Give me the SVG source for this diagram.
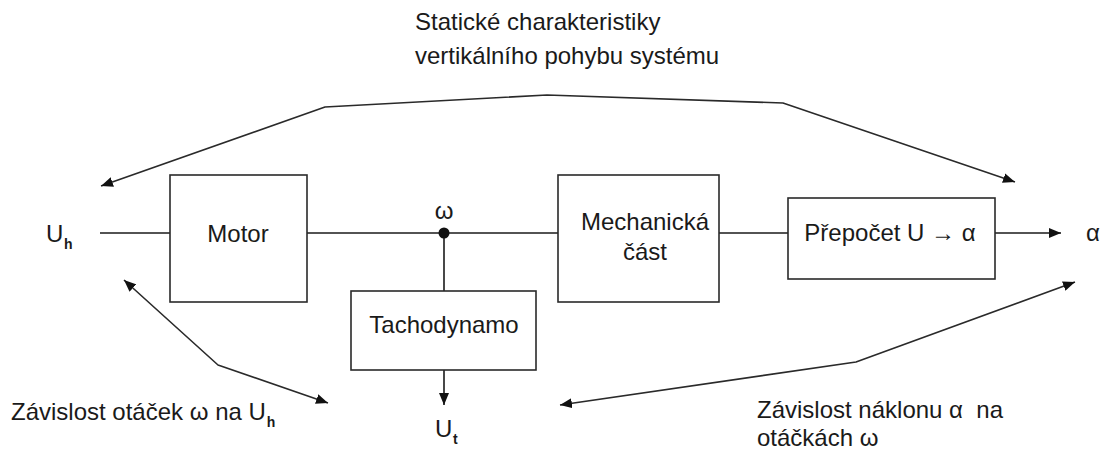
<svg xmlns="http://www.w3.org/2000/svg" width="1106" height="455" viewBox="0 0 1106 455">
  <style>
    text { font-family: "Liberation Sans", Arial, sans-serif; font-size: 24px; fill: #1a1a1a; }
    .sub { font-size: 14px; font-weight: bold; }
    .box { fill: #ffffff; stroke: #2a2a2a; stroke-width: 1.6; }
    .wire { fill: none; stroke: #1a1a1a; stroke-width: 1.6; }
    .link { fill: none; stroke: #2a2a2a; stroke-width: 1.6; stroke-linejoin: round; }
    .mid { text-anchor: middle; }
  </style>
  <defs>
    <marker id="arrow" markerUnits="userSpaceOnUse" markerWidth="13" markerHeight="10"
            refX="12" refY="5" orient="auto-start-reverse">
      <path d="M0,0 L12,5 L0,10 z" fill="#111111"/>
    </marker>
  </defs>

  <rect width="1106" height="455" fill="#ffffff"/>

  <!-- connectors -->
  <g id="connectors">
    <!-- signal path -->
    <line class="wire" x1="100" y1="233" x2="170" y2="233"/>
    <line class="wire" x1="307" y1="233" x2="558" y2="233"/>
    <line class="wire" x1="719" y1="233" x2="788" y2="233"/>
    <line class="wire" x1="995" y1="233" x2="1061" y2="233" marker-end="url(#arrow)"/>
    <line class="wire" x1="444" y1="233" x2="444" y2="291"/>
    <line class="wire" x1="444" y1="370" x2="444" y2="405" marker-end="url(#arrow)"/>
    <circle cx="444" cy="233" r="5.5" fill="#111111"/>

    <!-- annotation arrows -->
    <polyline class="link" points="101,186 325,107 547,95 783,103 1015,182"
              marker-start="url(#arrow)" marker-end="url(#arrow)"/>
    <polyline class="link" points="124,280 218,365 328,403"
              marker-start="url(#arrow)" marker-end="url(#arrow)"/>
    <polyline class="link" points="560,405 856,362 1075,282"
              marker-start="url(#arrow)" marker-end="url(#arrow)"/>
  </g>

  <!-- blocks -->
  <g id="motor">
    <rect class="box" x="170" y="175" width="137" height="127"/>
    <text class="mid" x="238" y="242">Motor</text>
  </g>
  <g id="mechanicka-cast">
    <rect class="box" x="558" y="175" width="161" height="127"/>
    <text class="mid" x="645" y="230">Mechanická</text>
    <text class="mid" x="645" y="260">část</text>
  </g>
  <g id="prepocet">
    <rect class="box" x="788" y="198" width="207" height="81"/>
    <text class="mid" x="890" y="241">Přepočet U → α</text>
  </g>
  <g id="tachodynamo">
    <rect class="box" x="351" y="291" width="185" height="79"/>
    <text class="mid" x="444" y="333">Tachodynamo</text>
  </g>

  <!-- signal labels -->
  <g id="input-uh">
    <text x="46" y="242">U<tspan class="sub" x="64" y="249">h</tspan></text>
  </g>
  <g id="omega">
    <text class="mid" x="444" y="219">ω</text>
  </g>
  <g id="output-ut">
    <text x="435" y="437">U<tspan class="sub" x="453" y="444">t</tspan></text>
  </g>
  <g id="output-alpha">
    <text x="1086" y="241">α</text>
  </g>

  <!-- annotations -->
  <g id="label-static">
    <text x="415" y="30">Statické charakteristiky</text>
    <text x="415" y="64">vertikálního pohybu systému</text>
  </g>
  <g id="label-speed">
    <text x="11" y="420">Závislost otáček ω na U<tspan class="sub" dx="1" y="427">h</tspan></text>
  </g>
  <g id="label-tilt">
    <text x="757" y="418" xml:space="preserve">Závislost náklonu α  na</text>
    <text x="757" y="446">otáčkách ω</text>
  </g>
</svg>
